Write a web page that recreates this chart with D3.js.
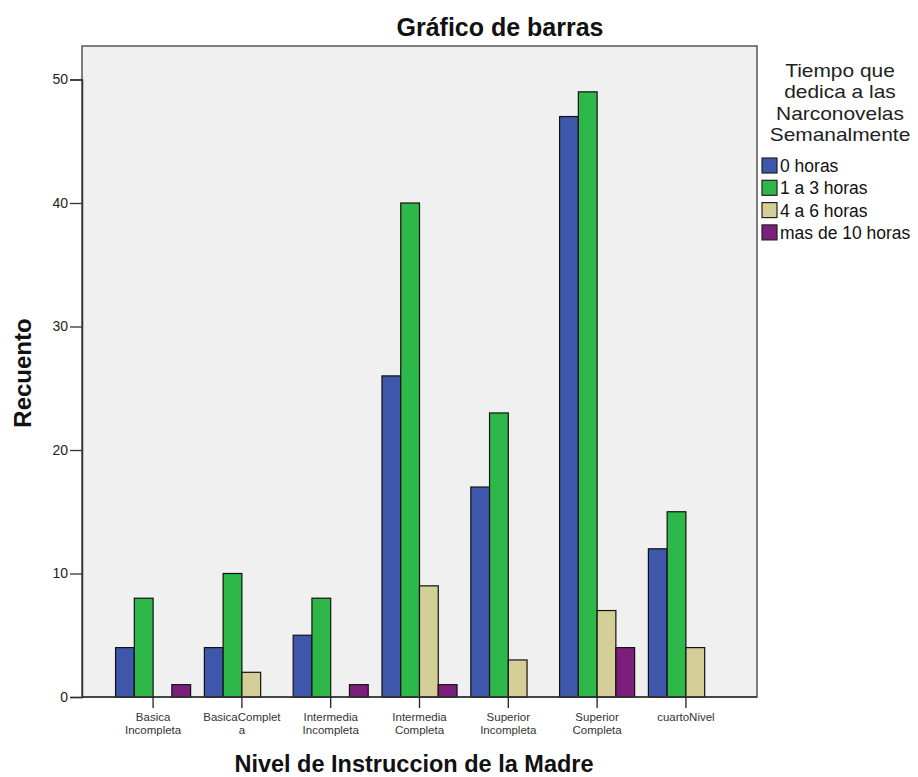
<!DOCTYPE html>
<html>
  <head>
    <meta charset="utf-8" />
    <script src="https://d3js.org/d3.v7.min.js"></script>
    <style>
        body { margin: 0; background: #fff; }
        text { font-family: "Liberation Sans", Arial, sans-serif; }
    </style>
  </head>
  <body>
    <svg id="chart" width="918" height="777"></svg>

    <script>
        // niveles de instruccion (eje x)
        var categorias = ["Basica Incompleta", "BasicaCompleta", "Intermedia Incompleta",
            "Intermedia Completa", "Superior Incompleta", "Superior Completa", "cuartoNivel"];
        // etiquetas tal como salen partidas en el grafico
        var etiquetas = [["Basica", "Incompleta"], ["BasicaComplet", "a"], ["Intermedia", "Incompleta"],
            ["Intermedia", "Completa"], ["Superior", "Incompleta"], ["Superior", "Completa"], ["cuartoNivel"]];

        var series = ["0 horas", "1 a 3 horas", "4 a 6 horas", "mas de 10 horas"];
        var colores = ["#3e57ab", "#2eb84a", "#d4cf97", "#7c1f7c"];

        var ceroHoras    = [4, 4, 5, 26, 17, 47, 12];
        var unoATres     = [8, 10, 8, 40, 23, 49, 15];
        var cuatroASeis  = [0, 2, 0, 9, 3, 7, 4];
        var masDeDiez    = [1, 0, 1, 1, 0, 4, 0];
        var valores = [ceroHoras, unoATres, cuatroASeis, masDeDiez];

        var yTicks = [0, 10, 20, 30, 40, 50];
        var tituloLeyenda = ["Tiempo que", "dedica a las", "Narconovelas", "Semanalmente"];

        var svg = d3.select("#chart");

        var izq = 82, der = 757, arriba = 46, abajo = 697;

        var x0 = d3.scaleBand()
            .domain(categorias)
            .range([izq, der])
            .paddingInner(0.155)
            .paddingOuter(0.378);

        var x1 = d3.scaleBand()
            .domain(series)
            .range([0, x0.bandwidth()]);

        var y = d3.scaleLinear()
            .domain([0, 50])
            .range([abajo, 79.5]);

        // fondo del area del grafico
        svg.append("rect")
            .attr("x", izq).attr("y", arriba)
            .attr("width", der - izq).attr("height", abajo - arriba)
            .attr("fill", "#f0f0f0")
            .attr("stroke", "#555")
            .attr("stroke-width", 1.5);

        // barras
        var datos = [];
        categorias.forEach(function(c, i) {
            series.forEach(function(s, j) {
                if (valores[j][i] > 0) {
                    datos.push({cat: c, serie: s, valor: valores[j][i], color: colores[j]});
                }
            });
        });

        svg.append("g").selectAll("rect")
            .data(datos)
            .enter().append("rect")
            .attr("x", function(d) { return x0(d.cat) + x1(d.serie); })
            .attr("y", function(d) { return y(d.valor); })
            .attr("width", x1.bandwidth())
            .attr("height", function(d) { return abajo - y(d.valor); })
            .attr("fill", function(d) { return d.color; })
            .attr("stroke", "#111")
            .attr("stroke-width", 1.2);

        // eje y
        var yAxis = svg.append("g")
            .attr("transform", "translate(" + izq + ",0)")
            .call(d3.axisLeft(y).tickValues(yTicks).tickSize(12).tickPadding(2));
        yAxis.select(".domain").attr("stroke", "#333").attr("stroke-width", 1.5);
        yAxis.selectAll(".tick line").attr("stroke", "#333").attr("stroke-width", 1.3);
        yAxis.selectAll(".tick text")
            .attr("fill", "#222")
            .style("font-size", "14px")
            .style("font-family", "'Liberation Sans', Arial, sans-serif");

        // eje x
        var xAxis = svg.append("g")
            .attr("transform", "translate(0," + abajo + ")")
            .call(d3.axisBottom(x0).tickSize(11).tickFormat(""));
        xAxis.select(".domain").attr("stroke", "#333").attr("stroke-width", 1.5)
            .attr("d", "M" + izq + ",0H" + der);
        xAxis.selectAll(".tick line").attr("stroke", "#222").attr("stroke-width", 1.3);

        var etiq = svg.append("g").selectAll("text")
            .data(categorias)
            .enter().append("text")
            .attr("x", function(d) { return x0(d) + x0.bandwidth() / 2; })
            .attr("y", 721)
            .attr("text-anchor", "middle")
            .attr("fill", "#333")
            .style("font-size", "11.5px");
        etiq.each(function(d, i) {
            var t = d3.select(this);
            etiquetas[i].forEach(function(linea, k) {
                t.append("tspan")
                    .attr("x", x0(d) + x0.bandwidth() / 2)
                    .attr("dy", k == 0 ? 0 : 13)
                    .text(linea);
            });
        });

        // titulos
        svg.append("text")
            .attr("x", 500).attr("y", 36)
            .attr("text-anchor", "middle")
            .style("font-size", "25px").style("font-weight", "bold")
            .attr("fill", "#111")
            .text("Gráfico de barras");

        svg.append("text")
            .attr("transform", "translate(31,373) rotate(-90)")
            .attr("text-anchor", "middle")
            .style("font-size", "24px").style("font-weight", "bold")
            .attr("fill", "#111")
            .text("Recuento");

        svg.append("text")
            .attr("x", 414).attr("y", 772)
            .attr("text-anchor", "middle")
            .style("font-size", "23.5px").style("font-weight", "bold")
            .attr("fill", "#111")
            .text("Nivel de Instruccion de la Madre");

        // leyenda
        var ley = svg.append("g");
        ley.selectAll("text.tit")
            .data(tituloLeyenda)
            .enter().append("text")
            .attr("class", "tit")
            .attr("x", 840)
            .attr("y", function(d, i) { return 77 + i * 21.3; })
            .attr("text-anchor", "middle")
            .attr("fill", "#222")
            .style("font-size", "18.5px")
            .text(function(d) { return d; })
            .each(function() {
                // un poco mas ancho, como en el original
                var w = this.getComputedTextLength();
                d3.select(this).attr("textLength", w * 1.13).attr("lengthAdjust", "spacingAndGlyphs");
            });

        var items = ley.selectAll("g.item")
            .data(series)
            .enter().append("g")
            .attr("class", "item")
            .attr("transform", function(d, i) { return "translate(762," + (158 + i * 22.3) + ")"; });
        items.append("rect")
            .attr("width", 15).attr("height", 15)
            .attr("fill", function(d, i) { return colores[i]; })
            .attr("stroke", "#222")
            .attr("stroke-width", 1.2);
        items.append("text")
            .attr("x", 18).attr("y", 14)
            .attr("fill", "#111")
            .style("font-size", "17.5px")
            .text(function(d) { return d; });
    </script>
  </body>
</html>
